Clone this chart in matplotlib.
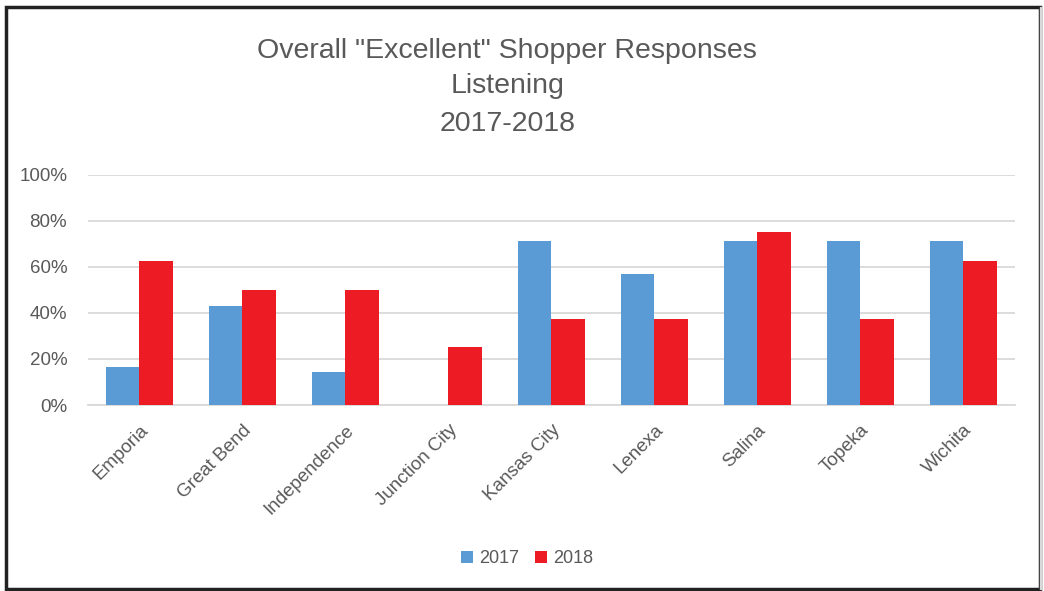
import matplotlib
matplotlib.use("Agg")
import matplotlib.pyplot as plt
from matplotlib.patches import Rectangle
from matplotlib.ticker import PercentFormatter
import numpy as np

plt.rcParams['font.family'] = ['Liberation Sans', 'DejaVu Sans']

cities = ["Emporia", "Great Bend", "Independence", "Junction City", "Kansas City",
          "Lenexa", "Salina", "Topeka", "Wichita"]
vals_2017 = [16.7, 42.9, 14.3, 0.0, 71.4, 57.1, 71.4, 71.4, 71.4]
vals_2018 = [62.5, 50.0, 50.0, 25.0, 37.5, 37.5, 75.0, 37.5, 62.5]
series_labels = ["2017", "2018"]
yticks = [0, 20, 40, 60, 80, 100]
title_lines = ['Overall "Excellent" Shopper Responses', "Listening", "2017-2018"]

BLUE = "#5B9BD5"
RED = "#ED1C24"
TEXT = "#595959"
GRID = "#D9D9D9"

fig = plt.figure(figsize=(10.44, 5.91), dpi=100)
ax = fig.add_axes([0.0843, 0.3147, 0.8877, 0.3893])

x = np.arange(len(cities))
w = 0.325
ax.bar(x - w / 2, vals_2017, width=w, color=BLUE, label=series_labels[0], zorder=3)
ax.bar(x + w / 2, vals_2018, width=w, color=RED, label=series_labels[1], zorder=3)

ax.set_xlim(-0.5, len(cities) - 0.5)
ax.set_ylim(0, 100)
ax.set_yticks(yticks)
ax.yaxis.set_major_formatter(PercentFormatter(decimals=0))
ax.grid(axis="y", color=GRID, linewidth=1.3, zorder=0)
for s in ["top", "right", "left"]:
    ax.spines[s].set_visible(False)
ax.spines["bottom"].set_color(GRID)
ax.spines["bottom"].set_linewidth(1.3)
ax.tick_params(axis="both", length=0, colors=TEXT, labelsize=13.5)
ax.tick_params(axis="y", pad=15)
ax.set_xticks(x)
ax.set_xticklabels(cities, rotation=45, ha="right", rotation_mode="anchor")
ax.tick_params(axis="x", pad=12)

# three-line title, each line on its own baseline
for line, yy in zip(title_lines, [0.9019, 0.8426, 0.7783]):
    fig.text(0.486, yy, line, ha="center", va="baseline", fontsize=20.5, color=TEXT)

leg = fig.legend(loc="center", bbox_to_anchor=(0.505, 0.055), ncol=2, frameon=False,
                 fontsize=13, handlelength=0.65, handleheight=0.65, handletextpad=0.35,
                 columnspacing=0.9)
for t in leg.get_texts():
    t.set_color(TEXT)

# chart frame
fig.patches.append(Rectangle((0.0055, 0.004), 0.991, 0.984, transform=fig.transFigure,
                             fill=False, edgecolor="#222222", linewidth=2.5))
fig.patches.append(Rectangle((0.996, 0.004), 0.001, 0.984, transform=fig.transFigure,
                             fill=False, edgecolor=GRID, linewidth=1))

fig.savefig("out.png", dpi=100)
